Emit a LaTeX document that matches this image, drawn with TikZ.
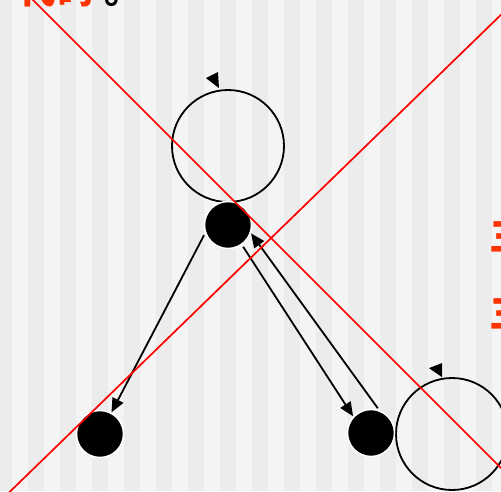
\documentclass[tikz,border=0pt]{standalone}
\usepackage{fontspec}
\newfontfamily\cjk{Noto Sans CJK SC}
\usetikzlibrary{arrows.meta,calc}
\definecolor{stripeA}{HTML}{F4F4F4}
\definecolor{stripeB}{HTML}{ECECEC}
\definecolor{orangered}{RGB}{255,51,0}
\tikzset{
  dotnode/.style={circle, fill=black, draw=white, line width=1.5pt, minimum size=47pt, inner sep=0pt, outer sep=1pt},
  loopcirc/.style={circle, draw=black, line width=1.8pt, minimum size=112pt, inner sep=0pt},
  edge/.style={draw=black, line width=1.8pt, shorten <=2pt, -{Triangle[length=14pt,width=12pt]}},
  redline/.style={draw=red, line width=1.7pt},
  loopmark/.style={fill=black},
  frag/.style={text=orangered, font=\cjk\bfseries\fontsize{38}{38}\selectfont, inner sep=0pt}
}
\begin{document}
\begin{tikzpicture}[x=1pt,y=-1pt]
\useasboundingbox (0,0) rectangle (501,491);
\begin{scope}
\clip (0,0) rectangle (501,491);
\fill[stripeB] (0,0) rectangle (501,491);
\foreach \i in {0,...,15} \fill[stripeA] ({12+32*\i},0) rectangle ({28+32*\i},491);
\end{scope}

\node[loopcirc] (L1) at (228,146) {};
\node[loopcirc] (L2) at (452,434) {};
\node[dotnode] (A) at (228,225) {};
\node[dotnode] (B) at (100,434) {};
\node[dotnode] (C) at (371,433) {};

\fill[loopmark] ([shift={(-22,-11)}]L1.north) -- ([shift={(-10,-17)}]L1.north) -- ([shift={(-9,-1)}]L1.north) -- cycle;
\fill[loopmark] ([shift={(-23,-9)}]L2.north) -- ([shift={(-10,-14)}]L2.north) -- ([shift={(-10,0)}]L2.north) -- cycle;

\draw[edge] (A.200) -- (B.62);
\draw[edge] (A.305) -- (C.137);
\draw[edge] (C.71) -- (A.340);

\draw[redline] (28,-5) -- (506,473);
\draw[redline] (0,501.3) -- (506,9.9);

\node[frag, anchor=west] (t1) at (489,237) {三};
\node[frag, anchor=west] (t2) at (489,314) {三};
\node[frag, anchor=base west] (t0) at (18,3) {代码};
\node[inner sep=0pt, anchor=base west, font=\cjk\bfseries\fontsize{38}{38}\selectfont] (t3) at (104,3) {。};
\end{tikzpicture}
\end{document}
